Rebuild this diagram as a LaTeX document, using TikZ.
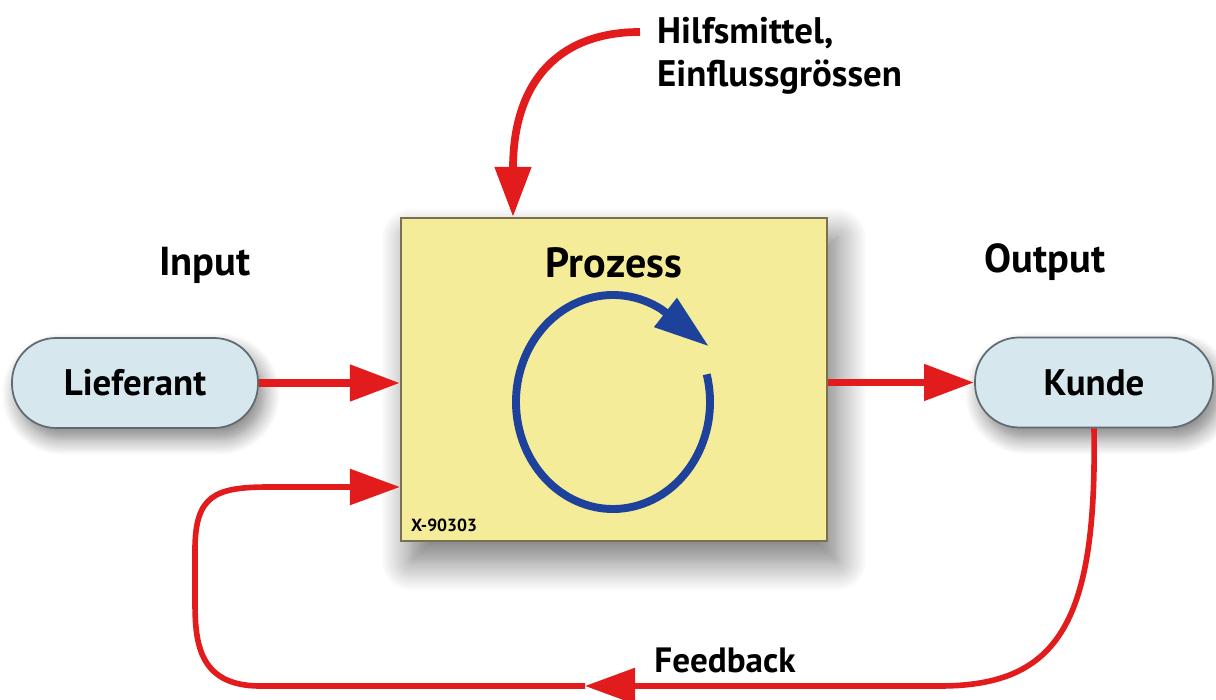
\documentclass[tikz,border=0pt]{standalone}
\usepackage{fontspec}
\setmainfont{PT Sans}
\usetikzlibrary{arrows.meta,shadows.blur,calc}
\definecolor{procYellow}{RGB}{244,236,152}
\definecolor{procEdge}{RGB}{120,112,78}
\definecolor{pillBlue}{RGB}{214,232,238}
\definecolor{pillEdge}{RGB}{96,106,112}
\definecolor{flowRed}{RGB}{226,28,28}
\definecolor{loopBlue}{RGB}{30,66,156}
\begin{document}
\begin{tikzpicture}[
    pmBox/.style={draw=procEdge, line width=1.2pt, fill=procYellow,
        minimum width=8.52cm, minimum height=6.46cm,
        blur shadow={shadow xshift=0.2cm, shadow yshift=-0.4cm, shadow blur radius=0.6cm, shadow blur steps=16, shadow opacity=55}},
    pmPill/.style={draw=pillEdge, line width=1pt, fill=pillBlue, rounded corners=0.88cm,
        minimum height=1.8cm, font=\fontsize{21}{24}\selectfont\bfseries,
        blur shadow={shadow xshift=0.12cm, shadow yshift=-0.22cm, shadow blur radius=0.32cm, shadow blur steps=10, shadow opacity=50}},
    pmArrow/.style={draw=flowRed, line width=4.4pt, -{Triangle[length=1cm,width=0.7cm]}},
    pmLabel/.style={font=\fontsize{23}{26}\selectfont\bfseries},
]
\useasboundingbox (0,0) rectangle (24.32,14);
% boxes
\node[pmBox] (prozess) at (12.28,6.41) {};
\node[pmPill, minimum width=4.92cm] (lieferant) at (2.70,6.34) {Lieferant};
\node[pmPill, minimum width=4.76cm] (kunde) at (21.88,6.35) {Kunde};
% labels
\node[pmLabel] (input) at (4.10,8.70) {Input};
\node[pmLabel] (output) at (20.90,8.76) {Output};
\node[font=\fontsize{24}{28}\selectfont\bfseries] (prozessText) at (12.28,8.74) {Prozess};
\node[anchor=west, font=\fontsize{10}{11}\selectfont\bfseries] (xnum) at (8.10,3.50) {X-90303};
\node[anchor=north west, align=left, font=\fontsize{21}{24.5}\selectfont\bfseries] (hilfs) at (13.02,13.78) {Hilfsmittel,\\Einflussgrössen};
\node[font=\fontsize{20}{24}\selectfont\bfseries] (feedback) at (14.50,0.80) {Feedback};
% cycle
\coordinate (ring) at (12.26,5.96);
\draw[loopBlue, line width=4.5pt, -{Triangle[length=1.1cm,width=0.7cm]}]
    ($(ring)+(15:1.94cm and 2.14cm)$) arc[start angle=15, end angle=-300, x radius=1.94cm, y radius=2.14cm]
    -- ++(-38:1.2cm);
% flow
\draw[pmArrow] (lieferant.east) -- (prozess.west |- lieferant.east);
\draw[pmArrow] (prozess.east |- kunde.west) -- (kunde.west);
\coordinate (hilfsStart) at (12.80,13.36);
\draw[pmArrow] (hilfsStart) .. controls (11.2,13.36) and (10.26,12.4) .. (prozess.north -| 10.26,0);
% feedback loop
\coordinate (fbMid) at (11.70,0.28);
\draw[pmArrow, line width=3.2pt] (kunde.south) .. controls (21.94,1.60) and (21.20,0.28) .. (18.80,0.28) -- (fbMid);
\draw[pmArrow, line width=3.2pt] (fbMid) -- (5.20,0.28) .. controls (3.94,0.28) and (3.90,1.20) .. (3.90,2.00)
    -- (3.90,3.00) .. controls (3.90,4.10) and (4.30,4.26) .. (5.40,4.26) -- (prozess.west |- 0,4.26);
\end{tikzpicture}
\end{document}
